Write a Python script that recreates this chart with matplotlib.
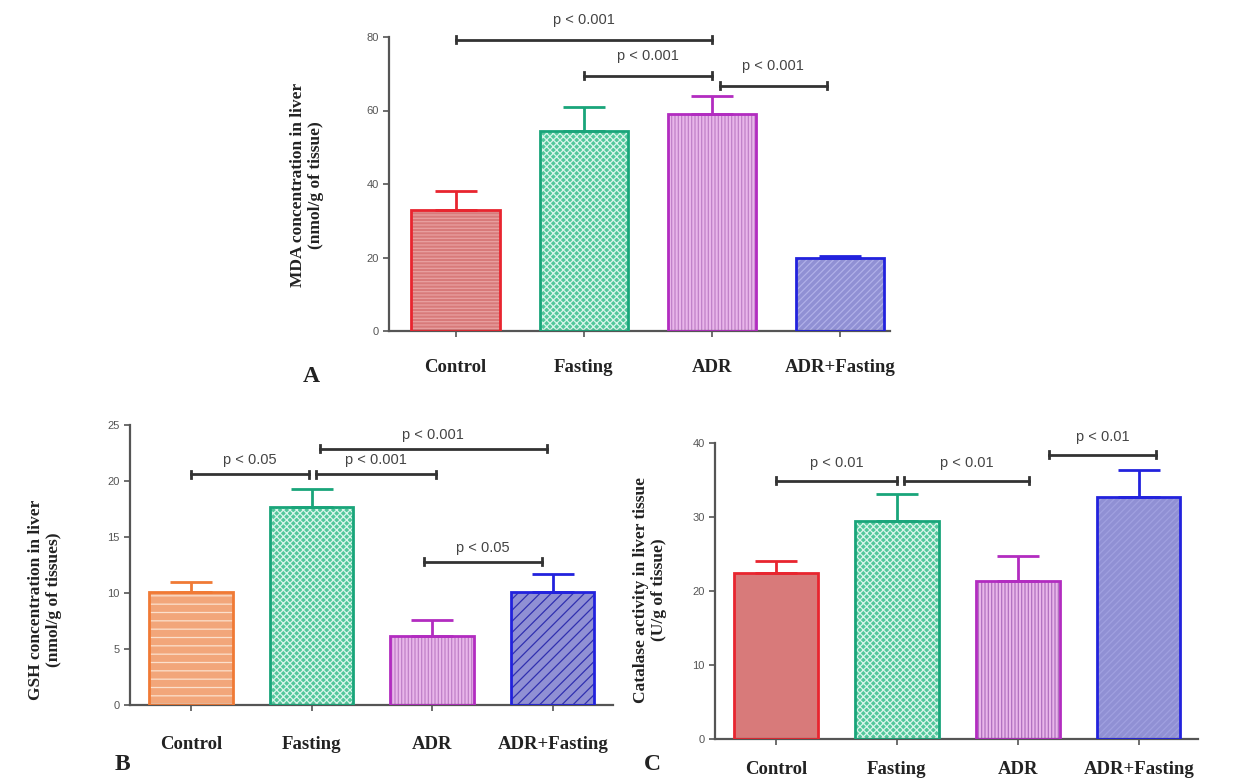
import matplotlib
matplotlib.use("Agg")
import matplotlib.pyplot as plt

groups = ["Control", "Fasting", "ADR", "ADR+Fasting"]

# panel A: MDA
mda_mean = [33, 54.5, 59, 20]
mda_err = [38, 61, 64, 20.3]
# panel B: GSH
gsh_mean = [10.1, 17.7, 6.2, 10.1]
gsh_err = [11.0, 19.3, 7.6, 11.7]
# panel C: catalase
cat_mean = [22.5, 29.5, 21.3, 32.7]
cat_err = [24.0, 33.1, 24.7, 36.3]

# brackets: (x start, x end, y, label)
mda_sig = [(0, 2, 79.3, "p < 0.001"), (1, 2, 69.5, "p < 0.001"), (2.06, 2.9, 66.7, "p < 0.001")]
gsh_sig = [(0, 0.98, 20.6, "p < 0.05"), (1.04, 2.03, 20.6, "p < 0.001"),
           (1.07, 2.95, 22.9, "p < 0.001"), (1.93, 2.91, 12.8, "p < 0.05")]
cat_sig = [(0, 1.0, 34.9, "p < 0.01"), (1.06, 2.09, 34.9, "p < 0.01"), (2.26, 3.14, 38.4, "p < 0.01")]

plt.rcParams["hatch.linewidth"] = 0.9
serif = "Liberation Serif"
sans = "Liberation Sans"


def draw_panel(ax, means, tops, sig, ymax, ystep, xlim, edges, faces, hatchc, hatches, txt_off):
    x = list(range(len(groups)))
    ax.bar(x, means, width=0.69, color=faces, edgecolor=hatchc, hatch=hatches, linewidth=0, zorder=2)
    ax.bar(x, means, width=0.69, fill=False, edgecolor=edges, linewidth=2, zorder=3)
    for i in x:
        ax.errorbar(i, means[i], yerr=[[0], [tops[i] - means[i]]], fmt="none",
                    ecolor=edges[i], elinewidth=2, capsize=15, capthick=2, zorder=3)
    ax.set_xlim(*xlim)
    ax.set_ylim(0, ymax)
    ax.set_yticks(range(0, ymax + 1, ystep))
    ax.set_xticks(x)
    ax.set_xticklabels(groups, fontfamily=serif, fontweight="bold", fontsize=13.5, color="#222")
    ax.tick_params(axis="y", labelsize=8, labelcolor="#555", color="#555", length=4, width=1.2)
    ax.tick_params(axis="x", length=4, width=1.2, color="#555")
    for lab in ax.get_yticklabels():
        lab.set_fontfamily(sans)
    for s in ["top", "right"]:
        ax.spines[s].set_visible(False)
    for s in ["left", "bottom"]:
        ax.spines[s].set_color("#555")
        ax.spines[s].set_linewidth(1.6)
    for x0, x1, y, txt in sig:
        ax.plot([x0, x1], [y, y], color="#333", lw=2, clip_on=False, zorder=4)
        for xe in (x0, x1):
            ax.plot([xe, xe], [y - ymax * 0.012, y + ymax * 0.012], color="#333", lw=2, clip_on=False)
        ax.annotate(txt, ((x0 + x1) / 2, y), xytext=(0, txt_off), textcoords="offset points",
                    ha="center", va="center", fontsize=10.5, fontfamily=sans, color="#444",
                    annotation_clip=False)


fig = plt.figure(figsize=(12.33, 7.78), dpi=100)
W, H = 1233, 778

axA = fig.add_axes([389 / W, 1 - 331 / H, 501 / W, 294 / H])
axB = fig.add_axes([130 / W, 1 - 705 / H, 483 / W, 280 / H])
axC = fig.add_axes([715 / W, 1 - 739 / H, 483 / W, 296 / H])

red_edge, red_face = "#e8252f", "#d87a7a"
orange_edge, orange_face = "#f07a35", "#f2a67a"
green_edge, green_face = "#19a57a", "#52c79b"
purple_edge, purple_face = "#b22cc0", "#e9b6ea"
blue_edge, blue_face = "#2222dd", "#9090d4"

draw_panel(axA, mda_mean, mda_err, mda_sig, 80, 20, (-0.52, 3.39),
           [red_edge, green_edge, purple_edge, blue_edge],
           [red_face, green_face, purple_face, blue_face],
           ["#e8a0a0", "#d8f5ea", "#c080c8", "#b0b0e8"],
           ["-----", "xxxxx", "|||||", "/////"], 14)
draw_panel(axB, gsh_mean, gsh_err, gsh_sig, 25, 5, (-0.505, 3.5),
           [orange_edge, green_edge, purple_edge, blue_edge],
           [orange_face, green_face, purple_face, blue_face],
           ["#fbe0cc", "#d8f5ea", "#c080c8", "#3030b0"],
           ["--", "xxxxx", "|||||", "///"], 10)
draw_panel(axC, cat_mean, cat_err, cat_sig, 40, 10, (-0.504, 3.49),
           [red_edge, green_edge, purple_edge, blue_edge],
           [red_face, green_face, purple_face, blue_face],
           ["#d88080", "#d8f5ea", "#b070c0", "#a0a0e0"],
           ["", "xxxxx", "|||||", "/////"], 12.5)

axA.tick_params(axis="x", pad=16)
axB.tick_params(axis="x", pad=18)
axC.tick_params(axis="x", pad=12)

ylab_kw = dict(rotation=90, ha="center", va="center", fontfamily=serif, fontweight="bold",
               fontsize=12.5, multialignment="center", color="#222")
fig.text(307 / W, 1 - 185 / H, "MDA concentration in liver\n(nmol/g of tissue)", **ylab_kw)
fig.text(45 / W, 1 - 600 / H, "GSH concentration in liver\n(nmol/g of tissues)", **ylab_kw)
fig.text(650 / W, 1 - 590 / H, "Catalase activity in liver tissue\n(U/g of tissue)", **ylab_kw)

let_kw = dict(ha="center", va="center", fontfamily=serif, fontweight="bold", fontsize=17, color="#222")
fig.text(311 / W, 1 - 376 / H, "A", **let_kw)
fig.text(122 / W, 1 - 765 / H, "B", **let_kw)
fig.text(652 / W, 1 - 765 / H, "C", **let_kw)

fig.savefig("out.png", dpi=100)
